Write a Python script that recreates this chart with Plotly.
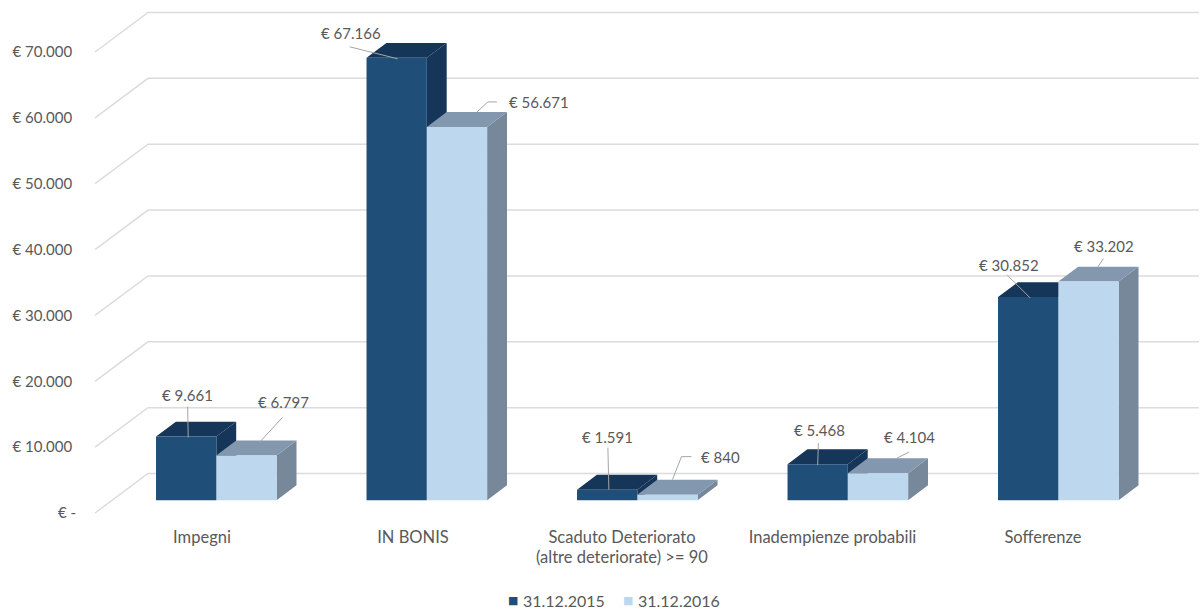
import plotly.graph_objects as go

categories = ["Impegni", "IN BONIS", "Scaduto Deteriorato", "Inadempienze probabili", "Sofferenze"]
category_second_line = "(altre deteriorate) >= 90"
series_names = ["31.12.2015", "31.12.2016"]
values_2015 = [9661, 67166, 1591, 5468, 30852]
values_2016 = [6797, 56671, 840, 4104, 33202]
y_ticks = [0, 10000, 20000, 30000, 40000, 50000, 60000, 70000]


def euro(v):
    return "€ " + f"{v:,}".replace(",", ".")


y_tick_labels = ["€ -"] + [euro(v) + "\u00a0" for v in y_ticks[1:]]

# Scale of the drawing area
WIDTH, HEIGHT = 1203, 612
PLOT_LEFT, PLOT_BOTTOM = 77, 525
ORIGIN_X, ORIGIN_Y = 199.1, 513      # first category at depth 0, value 0
PX_PER_CAT = 210.5
PX_PER_VALUE = 0.006586
BAR_WIDTH = 60.3 / PX_PER_CAT

# Oblique projection: one full depth unit moves right and up
DEPTH_X = 53 / PX_PER_CAT
DEPTH_Y = 39.5 / PX_PER_VALUE
BAR_NEAR, BAR_FAR = 0.325, 0.70
WALL_RIGHT = (1199 - ORIGIN_X) / PX_PER_CAT
WALL_FRONT = (95 - ORIGIN_X) / PX_PER_CAT

FONT = "Lato"
TEXT = "#595959"
GRID = "#dcdcdc"
VALUE_SIZE = 15
CATEGORY_SIZE = 16.5
LEGEND_SIZE = 16
FACE_COLOURS = [
    {"front": "#1f4e79", "top": "#153658", "side": "#153658"},
    {"front": "#bdd7ee", "top": "#8397ae", "side": "#76889a"},
]
SWATCHES = ["#1f4e79", "#bdd7ee"]

# Leader and label placement in pixels, relative to the top middle of each bar's front
leaders_2015 = [
    [(1.5, -30), (2, 1)],
    [(-47, -11), (1, 1)],
    [(0.7, -42), (1.7, 0)],
    [(0.7, -21), (0, 1)],
    [(-21, -22), (2, 1)],
]
leaders_2016 = [
    [(36, -38), (13, -13)],
    [(40, -25), (31, -25), (20, -15)],
    [(24, -38), (14, -38), (5, -15)],
    [(31, -21), (19, -15)],
    [(15, -23), (9, -14)],
]
labels_2015 = [(1.7, -42), (-45.5, -25), (0.7, -53), (2.2, -34), (-19, -32)]
labels_2016 = [(37.5, -53), (81.7, -25), (53, -38), (32, -36), (16, -35)]


def project(x, v, depth):
    return x + depth * DEPTH_X, v + depth * DEPTH_Y


def to_x(px):
    return (px - ORIGIN_X) / PX_PER_CAT


def polygon_trace(polygons, colour):
    xs, ys = [], []
    for poly in polygons:
        xs += [p[0] for p in poly] + [poly[0][0], None]
        ys += [p[1] for p in poly] + [poly[0][1], None]
    return go.Scatter(x=xs, y=ys, mode="lines", fill="toself", fillcolor=colour,
                      line=dict(width=0, color=colour), hoverinfo="skip", showlegend=False)


fig = go.Figure()

# Side and back walls with their gridlines
for v in y_ticks:
    corner_x, corner_y = project(WALL_FRONT, v, 1)
    fig.add_trace(go.Scatter(
        x=[WALL_FRONT, corner_x, WALL_RIGHT],
        y=[v, corner_y, corner_y],
        mode="lines", line=dict(color=GRID, width=1.5), hoverinfo="skip", showlegend=False))

# Bars, painted back to front: dark series first, then the light one beside it
for s, values in enumerate([values_2015, values_2016]):
    sides, tops, fronts = [], [], []
    for i, v in enumerate(values):
        left = i - BAR_WIDTH + s * BAR_WIDTH
        right = left + BAR_WIDTH
        fl = project(left, 0, BAR_NEAR)
        fr = project(right, 0, BAR_NEAR)
        tl = project(left, v, BAR_NEAR)
        tr = project(right, v, BAR_NEAR)
        bl = project(left, v, BAR_FAR)
        br = project(right, v, BAR_FAR)
        sb = project(right, 0, BAR_FAR)
        fronts.append([fl, fr, tr, tl])
        tops.append([tl, tr, br, bl])
        sides.append([fr, sb, br, tr])
    colours = FACE_COLOURS[s]
    fig.add_trace(polygon_trace(sides, colours["side"]))
    fig.add_trace(polygon_trace(tops, colours["top"]))
    fig.add_trace(polygon_trace(fronts, colours["front"]))

# Leader lines from each value label down to its bar
annotations = []
for s, (values, leaders, labels) in enumerate(
        [(values_2015, leaders_2015, labels_2015), (values_2016, leaders_2016, labels_2016)]):
    for i, v in enumerate(values):
        cx, cy = project(i - BAR_WIDTH / 2 + s * BAR_WIDTH, v, BAR_NEAR)
        fig.add_trace(go.Scatter(
            x=[cx + dx / PX_PER_CAT for dx, _ in leaders[i]],
            y=[cy - dy / PX_PER_VALUE for _, dy in leaders[i]],
            mode="lines", line=dict(color="#a6a6a6", width=1), hoverinfo="skip", showlegend=False))
        lx, ly = labels[i]
        annotations.append(dict(x=cx, y=cy, xref="x", yref="y", text=euro(v), showarrow=False,
                                xshift=lx, yshift=-ly,
                                font=dict(family=FONT, size=VALUE_SIZE, color=TEXT)))

# Second line of the long category name
annotations.append(dict(x=to_x(622), y=0, xref="x", yref="paper",
                        yanchor="middle", yshift=PLOT_BOTTOM - 557, text=category_second_line,
                        showarrow=False, font=dict(family=FONT, size=CATEGORY_SIZE, color=TEXT)))

# Legend row
for name, colour, swatch_px, text_px in zip(series_names, SWATCHES, [512.5, 628], [564, 678.5]):
    annotations.append(dict(x=to_x(swatch_px), y=0, xref="x", yref="paper",
                            xanchor="center", yanchor="middle", yshift=PLOT_BOTTOM - 600,
                            text="■", showarrow=False,
                            font=dict(family="DejaVu Sans", size=11, color=colour)))
    annotations.append(dict(x=to_x(text_px), y=0, xref="x", yref="paper",
                            xanchor="center", yanchor="middle", yshift=PLOT_BOTTOM - 600,
                            text=name, showarrow=False,
                            font=dict(family=FONT, size=LEGEND_SIZE, color=TEXT)))

label_centres = [to_x(px) for px in [202, 413, 622, 832.5, 1043]]

fig.update_layout(
    width=WIDTH, height=HEIGHT,
    margin=dict(l=PLOT_LEFT, r=0, t=0, b=HEIGHT - PLOT_BOTTOM, pad=0),
    paper_bgcolor="white", plot_bgcolor="white",
    showlegend=False,
    annotations=annotations,
    xaxis=dict(
        range=[to_x(PLOT_LEFT), to_x(WIDTH)],
        tickmode="array", tickvals=label_centres, ticktext=categories,
        showgrid=False, zeroline=False, showline=False, ticks="",
        tickfont=dict(family=FONT, size=CATEGORY_SIZE, color=TEXT)),
    yaxis=dict(
        range=[(ORIGIN_Y - PLOT_BOTTOM) / PX_PER_VALUE, ORIGIN_Y / PX_PER_VALUE],
        tickmode="array", tickvals=y_ticks, ticktext=y_tick_labels,
        showgrid=False, zeroline=False, showline=False, ticks="",
        tickfont=dict(family=FONT, size=VALUE_SIZE, color=TEXT)),
)

fig.write_html("out.html", config={"displayModeBar": False})
